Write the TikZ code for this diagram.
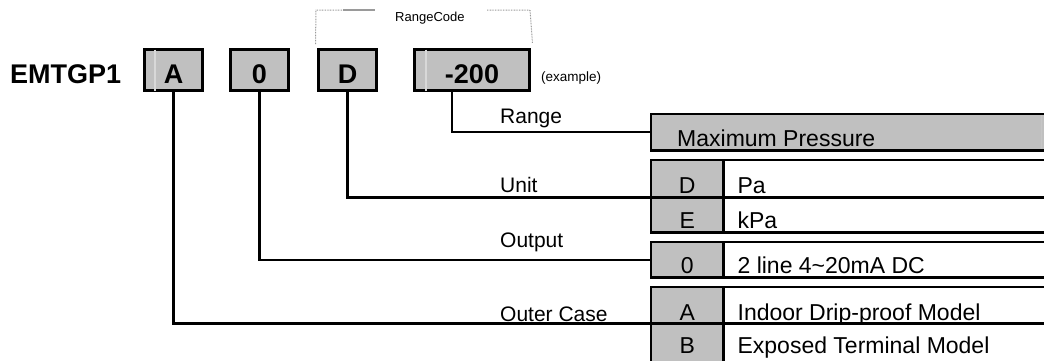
\documentclass[tikz,border=0pt]{standalone}
\usepackage{fontspec}
\setmainfont{Liberation Sans}
\definecolor{boxgray}{HTML}{C0C0C0}
\definecolor{faintgray}{HTML}{D8D8D8}
\definecolor{dotgray}{HTML}{9A9A9A}
\begin{document}
\begin{tikzpicture}[x=1pt,y=-1pt,
  codebox/.style={draw=black, line width=3pt, fill=boxgray, minimum height=41pt, inner sep=0pt, anchor=north west},
  codecell/.style={fill=boxgray, draw=none, minimum width=72pt, inner sep=0pt, anchor=north west},
  bigbold/.style={font=\fontsize{27}{30}\selectfont\bfseries, inner sep=0pt},
  tabtext/.style={font=\fontsize{23}{26}\selectfont, inner sep=0pt},
  labtext/.style={font=\fontsize{21}{24}\selectfont, inner sep=0pt, anchor=base west},
  smalltext/.style={font=\fontsize{13}{15}\selectfont, inner sep=0pt},
  tline/.style={draw=black, line width=2.5pt},
  conn/.style={draw=black, line width=2.4pt},
  dotline/.style={draw=dotgray, line width=1pt, dash pattern=on 0.8pt off 0.8pt},
  faint/.style={draw=faintgray, line width=1.2pt}]
\useasboundingbox (0,0) rectangle (1044,360);
\coordinate (baseY) at (0,83);
\coordinate (R) at (1044,0);

% code boxes
\node[codebox, minimum width=58pt] (bA) at (143,48) {};
\node[codebox, minimum width=58pt] (b0) at (229,48) {};
\node[codebox, minimum width=58pt] (bD) at (317,48) {};
\node[codebox, minimum width=115pt] (bR) at (413,48) {};
\draw[faint] ([xshift=12pt,yshift=-1.5pt]bA.north west) -- ([xshift=12pt,yshift=1.5pt]bA.south west);
\draw[faint] ([xshift=13pt,yshift=-1.5pt]bR.north west) -- ([xshift=13pt,yshift=1.5pt]bR.south west);

\node[bigbold, anchor=base west] (tEM) at (10,83) {EMTGP1};
\node[bigbold, anchor=base] (tA) at (bA.center |- baseY) {A};
\node[bigbold, anchor=base] (t0) at (b0.center |- baseY) {0};
\node[bigbold, anchor=base] (tD) at (bD.center |- baseY) {D};
\node[bigbold, anchor=base] (tR) at (bR.center |- baseY) {-200};
\node[font=\fontsize{13.5}{16}\selectfont, inner sep=0pt, anchor=base west] (ex) at (541,81) {(example)};

% RangeCode bracket
\coordinate (brTL) at (316,10);
\coordinate (brTR) at (530,10);
\draw[dotline] ([xshift=-1.5pt,yshift=4pt]bD.north west) -- (brTL) -- (343,10);
\draw[draw=dotgray, line width=1.3pt] (343,10) -- (375,10);
\node[smalltext, anchor=base west] (rc) at (395,21) {RangeCode};
\draw[dotline] (487,10) -- (brTR) -- ([xshift=1.5pt,yshift=5pt]bR.north east);

% Range table
\node[fill=boxgray, draw=none, minimum width=393pt, minimum height=36pt, inner sep=0pt, anchor=north west] (maxc) at (651,114) {};
\draw[tline] (maxc.north east) -- (maxc.north west) -- (maxc.south west) -- (maxc.south east);
\draw[draw=faintgray!80!gray, line width=1.5pt] ([xshift=-3pt,yshift=-1pt]maxc.north east) -- ([xshift=-3pt,yshift=1pt]maxc.south east);
\node[tabtext, anchor=base west] (maxt) at ([xshift=26pt,yshift=4pt]maxc.south west) {Maximum Pressure};

% Unit table
\node[codecell, minimum height=37pt] (cD) at (651,160) {};
\node[codecell, minimum height=35pt] (cE) at (651,197) {};
\draw[tline] (cD.north west -| R) -- (cD.north west) -- (cE.south west) -- (cE.south west -| R);
\draw[tline] (cD.south west) -- (cD.south west -| R);
\draw[tline] (cD.north east) -- (cE.south east);
\node[tabtext, anchor=base] (kD) at ([yshift=4pt]cD.south) {D};
\node[tabtext, anchor=base west] (vD) at ([xshift=14pt,yshift=4pt]cD.south east) {Pa};
\node[tabtext, anchor=base] (kE) at ([yshift=4pt]cE.south) {E};
\node[tabtext, anchor=base west] (vE) at ([xshift=14pt,yshift=4pt]cE.south east) {kPa};

% Output table
\node[codecell, minimum height=35pt] (cO) at (651,242) {};
\draw[tline] (cO.north west -| R) -- (cO.north west) -- (cO.south west) -- (cO.south west -| R);
\draw[tline] (cO.north east) -- (cO.south east);
\node[tabtext, anchor=base] (kO) at ([yshift=4pt]cO.south) {0};
\node[tabtext, anchor=base west] (vO) at ([xshift=14pt,yshift=4pt]cO.south east) {2 line 4\char`\~20mA DC};

% Outer case table
\node[codecell, minimum height=36pt] (cA) at (651,287) {};
\node[codecell, minimum height=38pt] (cB) at (651,323) {};
\draw[tline] (cA.north west -| R) -- (cA.north west) -- (cB.south west);
\draw[tline] (cA.south west) -- (cA.south west -| R);
\draw[tline] (cA.north east) -- (cB.south east);
\node[tabtext, anchor=base] (kA) at ([yshift=3pt]cA.south) {A};
\node[tabtext, anchor=base west] (vA) at ([xshift=14pt,yshift=3pt]cA.south east) {Indoor Drip-proof Model};
\node[tabtext, anchor=base] (kB) at ([yshift=8pt]cB.south) {B};
\node[tabtext, anchor=base west] (vB) at ([xshift=14pt,yshift=8pt]cB.south east) {Exposed Terminal Model};

% labels
\node[labtext] (lR) at (500,123) {Range};
\node[labtext] (lU) at (500,192) {Unit};
\node[labtext] (lO) at (500,247) {Output};
\node[labtext] (lC) at (500,321) {Outer Case};

% connectors
\draw[conn] ([xshift=-20pt]bR.south) |- (maxc.west);
\draw[conn] (bD.south) |- (cD.south west);
\draw[conn] (b0.south) |- (cO.west);
\draw[conn] (bA.south) |- (cA.south west);
\end{tikzpicture}
\end{document}
